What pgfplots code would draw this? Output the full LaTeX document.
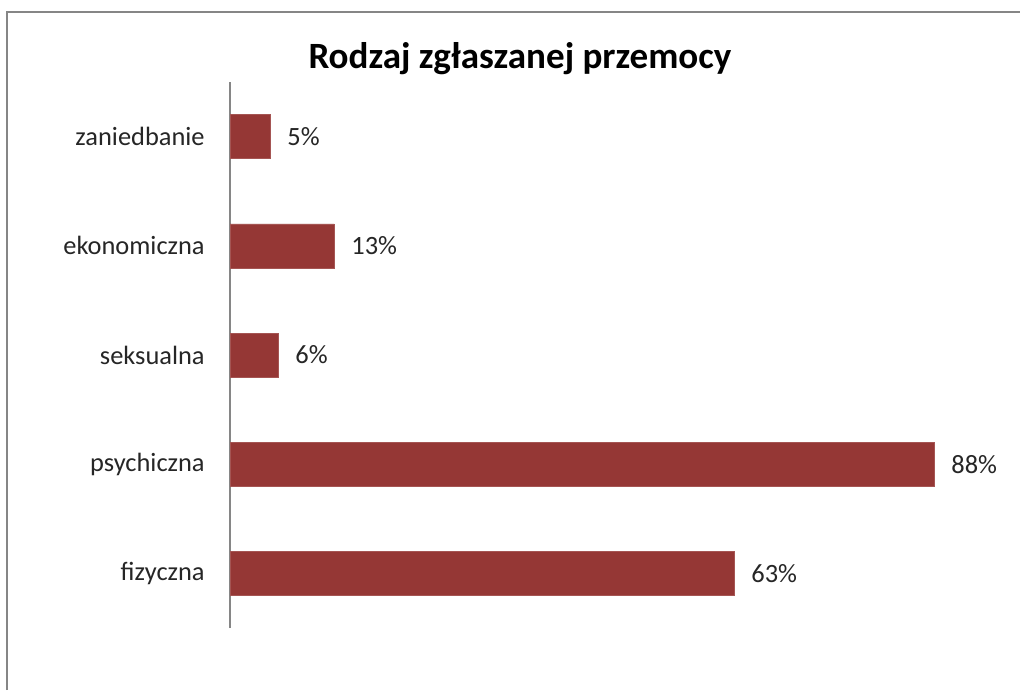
\documentclass[border=0pt]{standalone}
\usepackage{pgfplots}
\pgfplotsset{compat=1.18}
\usepackage{fontspec}
\setmainfont{Carlito}
\definecolor{barred}{RGB}{149,55,53}
\definecolor{framegray}{RGB}{134,134,134}
\definecolor{axgray}{RGB}{134,134,134}

\pgfplotstableread{
pos value
1 63
2 88
3 6
4 13
5 5
}\przemoc

\begin{document}
\begin{tikzpicture}[x=0.75pt,y=0.75pt]
  \useasboundingbox (0,0) rectangle (1020,690);
  \fill[white] (0,0) rectangle (1020,690);
  \draw[framegray, line width=1.8pt] (7,0) -- (7,678) -- (1020,678);
  \node[anchor=base, font=\fontsize{27.8}{33}\selectfont\bfseries] at (520,621) {Rodzaj zgłaszanej przemocy};
  \begin{axis}[
    at={(172.5pt,46.5pt)}, anchor=south west,
    scale only axis,
    width=588pt, height=409.5pt,
    xbar, bar width=33pt,
    xmin=0, xmax=98, ymin=0.5, ymax=5.5,
    axis x line=none,
    axis y line*=left,
    y axis line style={axgray, line width=0.8pt, -},
    ytick={1,2,3,4,5},
    yticklabels={fizyczna,psychiczna,seksualna,ekonomiczna,zaniedbanie},
    major tick length=0pt,
    yticklabel style={font=\fontsize{19.8}{24}\selectfont, text=black!85, xshift=-15.5pt},
    /pgf/number format/assume math mode=true,
    point meta=x,
    nodes near coords={\pgfmathprintnumber{\pgfplotspointmeta}\%},
    nodes near coords style={font=\fontsize{19.8}{24}\selectfont, text=black!85, anchor=west, xshift=9.5pt},
    clip=false,
  ]
  \addplot[fill=barred, draw=barred!85!white] table[x=value, y=pos] {\przemoc};
  \end{axis}
\end{tikzpicture}
\end{document}
